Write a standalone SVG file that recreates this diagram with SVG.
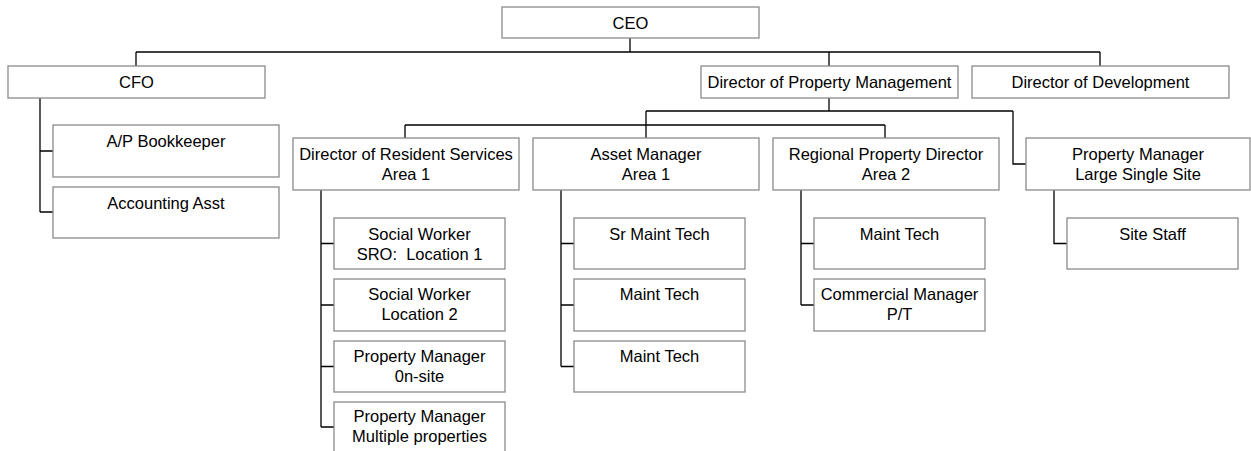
<svg xmlns="http://www.w3.org/2000/svg" width="1251" height="451" viewBox="0 0 1251 451">
<style>
.box{fill:#fff;stroke:#8a8a8a;stroke-width:1.3}
.lbl{font-family:"Liberation Sans",Arial,sans-serif;font-size:16.5px;fill:#000;text-anchor:middle}
.con{fill:none;stroke:#000;stroke-width:1.3}
</style>
<rect width="1251" height="451" fill="#fff"/>
<g id="connectors" class="con">
<path d="M630,38V52M136,52H1100M136,52V66M829,52V66M1100,52V66"/>
<path d="M40,98V212M40,151H53M40,212H53"/>
<path d="M829,98V111M646,111H1013M646,111V138M405,125H885M405,125V138M885,125V138M1013,111V164H1026"/>
<path d="M321,190V427M321,243.5H334M321,305H334M321,366.5H334M321,427H334"/>
<path d="M561,190V366.5M561,243.5H574M561,305H574M561,366.5H574"/>
<path d="M801,190V305M801,243.5H814M801,305H814"/>
<path d="M1054,190V243.5H1067"/>
</g>
<g id="ceo"><rect class="box" x="502" y="7" width="257" height="31"/><text class="lbl" x="630.5" y="29">CEO</text></g>
<g id="cfo"><rect class="box" x="8" y="66" width="257" height="32"/><text class="lbl" x="136.5" y="88">CFO</text></g>
<g id="dpm"><rect class="box" x="701" y="66" width="257" height="32"/><text class="lbl" x="829.5" y="88">Director of Property Management</text></g>
<g id="dod"><rect class="box" x="972" y="66" width="257" height="32"/><text class="lbl" x="1100.5" y="88">Director of Development</text></g>
<g id="ap"><rect class="box" x="53" y="125" width="226" height="52"/><text class="lbl" x="166" y="146.5">A/P Bookkeeper</text></g>
<g id="acct"><rect class="box" x="53" y="187" width="226" height="51"/><text class="lbl" x="166" y="208.5">Accounting Asst</text></g>
<g id="drs"><rect class="box" x="293" y="138" width="226" height="52"/><text class="lbl" x="406" y="159.5">Director of Resident Services</text><text class="lbl" x="406" y="179.5">Area 1</text></g>
<g id="am"><rect class="box" x="533" y="138" width="226" height="52"/><text class="lbl" x="646" y="159.5">Asset Manager</text><text class="lbl" x="646" y="179.5">Area 1</text></g>
<g id="rpd"><rect class="box" x="773" y="138" width="226" height="52"/><text class="lbl" x="886" y="159.5">Regional Property Director</text><text class="lbl" x="886" y="179.5">Area 2</text></g>
<g id="pmlss"><rect class="box" x="1026" y="138" width="224" height="52"/><text class="lbl" x="1138" y="159.5">Property Manager</text><text class="lbl" x="1138" y="179.5">Large Single Site</text></g>
<g id="sw1"><rect class="box" x="334" y="218" width="171" height="51"/><text class="lbl" x="419.5" y="239.5">Social Worker</text><text class="lbl" x="419.5" y="259.5" xml:space="preserve">SRO:  Location 1</text></g>
<g id="sw2"><rect class="box" x="334" y="279" width="171" height="52"/><text class="lbl" x="419.5" y="300">Social Worker</text><text class="lbl" x="419.5" y="320">Location 2</text></g>
<g id="pmo"><rect class="box" x="334" y="341" width="171" height="51"/><text class="lbl" x="419.5" y="361.5">Property Manager</text><text class="lbl" x="419.5" y="381.5">0n-site</text></g>
<g id="pmm"><rect class="box" x="334" y="402" width="171" height="52"/><text class="lbl" x="419.5" y="422">Property Manager</text><text class="lbl" x="419.5" y="442">Multiple properties</text></g>
<g id="smt"><rect class="box" x="574" y="218" width="171" height="51"/><text class="lbl" x="659.5" y="239.5">Sr Maint Tech</text></g>
<g id="mt1"><rect class="box" x="574" y="279" width="171" height="52"/><text class="lbl" x="659.5" y="300">Maint Tech</text></g>
<g id="mt2"><rect class="box" x="574" y="341" width="171" height="51"/><text class="lbl" x="659.5" y="361.5">Maint Tech</text></g>
<g id="rmt"><rect class="box" x="814" y="218" width="171" height="51"/><text class="lbl" x="899.5" y="239.5">Maint Tech</text></g>
<g id="cm"><rect class="box" x="814" y="279" width="171" height="52"/><text class="lbl" x="899.5" y="300">Commercial Manager</text><text class="lbl" x="899.5" y="320">P/T</text></g>
<g id="ss"><rect class="box" x="1067" y="218" width="171" height="51"/><text class="lbl" x="1152.5" y="239.5">Site Staff</text></g>
</svg>
